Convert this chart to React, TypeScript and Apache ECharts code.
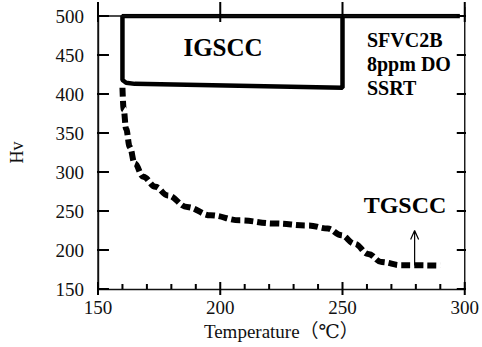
import React, { useEffect, useRef } from "react";
import * as echarts from "echarts";

// Dashed hardness curve (temperature °C, Hv)
const CURVE_T = [160, 160.5, 161.5, 163, 165, 168.5, 173.5, 178.5, 186.5, 196, 208, 222, 236, 244, 249.5, 255, 260.5, 266, 274, 290];
const CURVE_HV = [408, 380, 355, 332, 311, 294, 281, 270, 255, 244.5, 238, 234, 231.5, 227.5, 219, 208, 195, 184.5, 180.5, 180];

// IGSCC region outline
const BOX_T = [298, 160, 160, 161.5, 165, 250, 250];
const BOX_HV = [500, 500, 418, 414.5, 413, 408, 500];

// TGSCC arrow (base, tip)
const ARROW_T = [279.5, 279.5];
const ARROW_HV = [180, 225];

const X_TICKS = [150, 200, 250, 300];
const Y_TICKS = [150, 200, 250, 300, 350, 400, 450, 500];
const X_MINOR_STEP = 10;

const SERIF = "Liberation Serif, DejaVu Serif, Noto Sans CJK JP, serif";
const W = 482;
const H = 347;
const GRID = { left: 98, right: 16, top: 16, bottom: 58 };

export default function App() {
  const ref = useRef<HTMLDivElement>(null);
  useEffect(() => {
    if (!ref.current) return;
    const chart = echarts.init(ref.current, null, { renderer: "svg" });
    const xMin = X_TICKS[0];
    const xMax = X_TICKS[X_TICKS.length - 1];
    const yMin = Y_TICKS[0];
    const yMax = Y_TICKS[Y_TICKS.length - 1];
    // data units per pixel, so tick marks keep a fixed pixel length
    const kx = (xMax - xMin) / (W - GRID.left - GRID.right);
    const ky = (yMax - yMin) / (H - GRID.top - GRID.bottom);

    const frameData: any[] = [];
    const tickData: any[] = [];
    const add = (arr: any[], a: number[], b: number[]) => {
      arr.push(a, b, ["-", "-"]);
    };
    add(frameData, [xMin, yMin], [xMin, yMax + 9 * ky]);
    add(frameData, [xMax, yMin], [xMax, yMax + 9 * ky]);
    add(frameData, [xMin, yMax], [xMax, yMax]);
    X_TICKS.forEach((v) => {
      add(tickData, [v, yMin - 6 * ky], [v, yMin + 7 * ky]);
      add(tickData, [v, yMax - 6 * ky], [v, yMax + 14 * ky]);
    });
    for (let v = xMin + X_MINOR_STEP; v < xMax; v += X_MINOR_STEP) {
      if ((v - xMin) % 50 !== 0) add(tickData, [v, yMin], [v, yMin + 5 * ky]);
    }
    Y_TICKS.forEach((v) => {
      add(tickData, [xMin - 10 * kx, v], [xMin + 11 * kx, v]);
      add(tickData, [xMax - 8 * kx, v], [xMax + 8 * kx, v]);
    });

    const tipT = ARROW_T[1];
    const tipH = ARROW_HV[1];
    const arrowData: any[] = [
      [ARROW_T[0], ARROW_HV[0]],
      [tipT, tipH],
      ["-", "-"],
      [tipT - 4 * kx, tipH - 9 * ky],
      [tipT, tipH],
      [tipT + 4 * kx, tipH - 9 * ky],
    ];

    const label = (text: string, x: number, y: number, size: number, align = "left") => ({
      type: "text",
      x,
      y,
      style: {
        text,
        fill: "#000",
        fontFamily: SERIF,
        fontWeight: "bold",
        fontSize: size,
        align,
        verticalAlign: "middle",
      },
    });
    chart.setOption({
      animation: false,
      grid: GRID,
      xAxis: {
        type: "value",
        min: xMin,
        max: xMax,
        interval: 50,
        splitLine: { show: false },
        axisLine: { show: true, lineStyle: { color: "#111", width: 1.4 } },
        axisTick: { show: false },
        axisLabel: { color: "#111", fontFamily: SERIF, fontSize: 19, margin: 9 },
        name: "Temperature（℃）",
        nameLocation: "middle",
        nameGap: 33,
        nameTextStyle: { color: "#111", fontFamily: SERIF, fontSize: 19 },
      },
      yAxis: {
        type: "value",
        min: yMin,
        max: yMax,
        interval: 50,
        splitLine: { show: false },
        axisLine: { show: true, lineStyle: { color: "#111", width: 1.4 } },
        axisTick: { show: false },
        axisLabel: { color: "#111", fontFamily: SERIF, fontSize: 19, margin: 14 },
        name: "Hv",
        nameLocation: "middle",
        nameGap: 72,
        nameTextStyle: { color: "#111", fontFamily: SERIF, fontSize: 18 },
      },
      series: [
        {
          type: "line",
          data: frameData,
          clip: false,
          showSymbol: false,
          symbol: "none",
          lineStyle: { color: "#111", width: 1.4 },
          z: 6,
        },
        {
          type: "line",
          data: tickData,
          clip: false,
          showSymbol: false,
          symbol: "none",
          lineStyle: { color: "#000", width: 2 },
          z: 6,
        },
        {
          type: "line",
          data: BOX_T.map((t, i) => [t, BOX_HV[i]]),
          showSymbol: false,
          symbol: "none",
          lineStyle: { color: "#000", width: 4.5 },
          z: 5,
        },
        {
          type: "line",
          data: CURVE_T.map((t, i) => [t, CURVE_HV[i]]),
          smooth: 0.4,
          smoothMonotone: "x",
          showSymbol: false,
          symbol: "none",
          lineStyle: { color: "#000", width: 6, type: [9, 4] },
          z: 5,
        },
        {
          type: "line",
          data: arrowData,
          clip: false,
          showSymbol: false,
          symbol: "none",
          lineStyle: { color: "#000", width: 1.2 },
          z: 4,
        },
      ],
      graphic: [
        label("IGSCC", 223, 47, 25, "center"),
        label("SFVC2B", 367, 40, 20),
        label("8ppm DO", 367, 64, 20),
        label("SSRT", 367, 88, 20),
        label("TGSCC", 405, 205, 24, "center"),
      ],
    });
    return () => chart.dispose();
  }, []);
  return (
    <div
      ref={ref}
      style={{ position: "fixed", left: 0, top: 0, width: W, height: H, background: "#fff" }}
    />
  );
}
